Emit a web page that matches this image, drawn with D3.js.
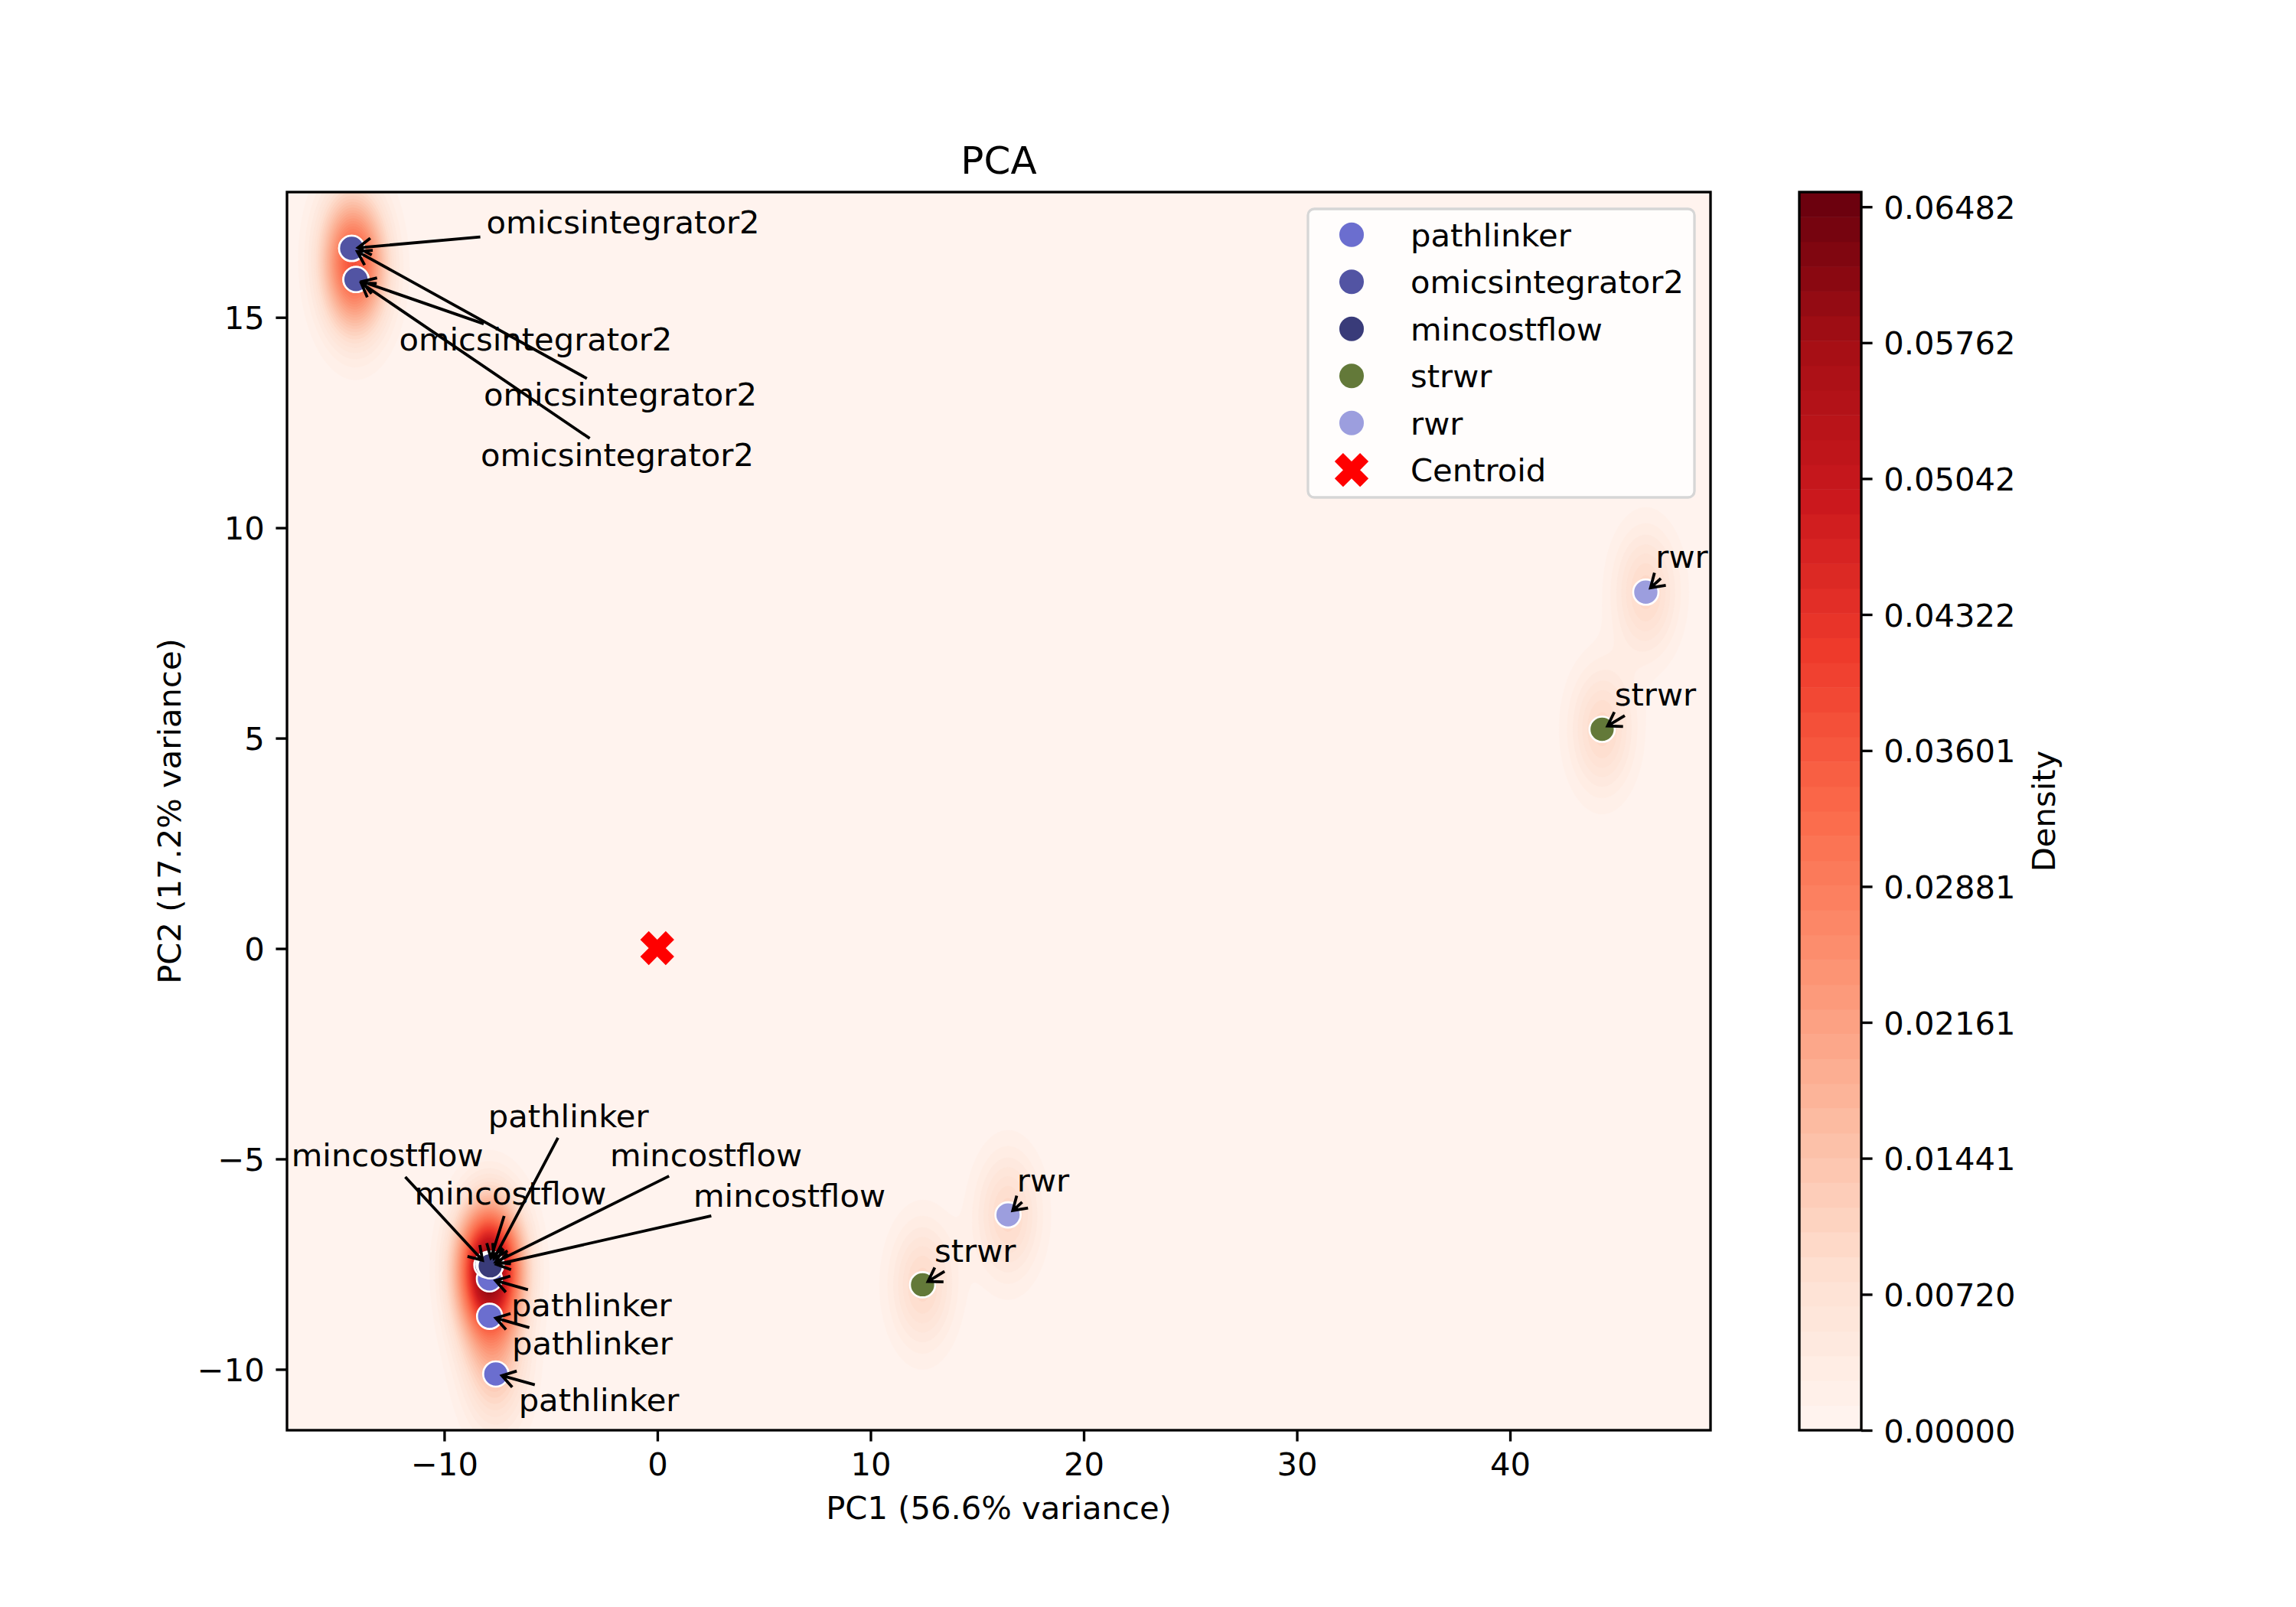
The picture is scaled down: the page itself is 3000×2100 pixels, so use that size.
<!DOCTYPE html>
<html>
<head>
<meta charset="utf-8">
<script src="https://cdn.jsdelivr.net/npm/d3@7"></script>
<style>
  body { margin: 0; background: #fff; }
  text { font-family: "DejaVu Sans", sans-serif; }
</style>
</head>
<body>
<div id="chart"></div>
<script>
// method order as it appears in the legend
const methods = ["pathlinker", "omicsintegrator2", "mincostflow", "strwr", "rwr"];
const methodColors = ["#6b6ecf", "#5254a3", "#393b79", "#637939", "#9c9ede"];

// one entry per run
const pointMethod = [
  "pathlinker", "pathlinker", "pathlinker", "pathlinker",
  "omicsintegrator2", "omicsintegrator2", "omicsintegrator2", "omicsintegrator2",
  "mincostflow", "mincostflow", "mincostflow", "mincostflow",
  "strwr", "strwr",
  "rwr", "rwr"
];
const pointPC1 = [-7.80, -7.88, -7.87, -7.58, -14.34, -14.14, -14.34, -14.14, -8.00, -7.90, -7.86, -7.84, 12.44, 44.32, 16.45, 46.37];
const pointPC2 = [-7.50, -7.85, -8.74, -10.11, 16.64, 15.90, 16.64, 15.90, -7.52, -7.50, -7.52, -7.54, -7.99, 5.21, -6.33, 8.47];

// where each annotation text sits (left / baseline, data units)
const labelPC1 = [-7.94, -6.86, -6.82, -6.51, -8.02, -12.12, -8.15, -8.29, -17.17, -11.40, -2.22, 1.69, 13.00, 44.91, 16.87, 46.83];
const labelPC2 = [-4.24, -8.74, -9.64, -11.00, 17.00, 14.21, 12.90, 11.47, -5.18, -6.09, -5.18, -6.14, -7.44, 5.77, -5.78, 9.04];

const xTicks = [-10, 0, 10, 20, 30, 40];
const yTicks = [-10, -5, 0, 5, 10, 15];
const cbarTicks = [0, 0.00720, 0.01441, 0.02161, 0.02881, 0.03601, 0.04322, 0.05042, 0.05762, 0.06482];
const cbarMax = 0.0656;
const nLevels = 50;
const bandwidth = 1.0;

const width = 3000, height = 2100;
const mL = 375, mR = 2235, mT = 251, mB = 1869;
const fs = 41.7;             // 10pt at 300 dpi
const pt = 300 / 72;

const svg = d3.select("#chart").append("svg")
    .attr("width", width)
    .attr("height", height)
    .attr("viewBox", `0 0 ${width} ${height}`);

// matplotlib-style 5% margins
const xExt = d3.extent(pointPC1), yExt = d3.extent(pointPC2);
const xPad = (xExt[1] - xExt[0]) * 0.05, yPad = (yExt[1] - yExt[0]) * 0.05;
const x = d3.scaleLinear().domain([xExt[0] - xPad, xExt[1] + xPad]).range([mL, mR]);
const y = d3.scaleLinear().domain([yExt[0] - yPad, yExt[1] + yPad]).range([mB, mT]);

const reds = d3.piecewise(d3.interpolateRgb, d3.schemeReds[9]);
const color = d3.scaleSequential(reds).domain([0, cbarMax]);
const levels = d3.range(nLevels + 1).map(i => i * cbarMax / nLevels);
const bandColor = i => color((levels[i] + levels[Math.min(i + 1, nLevels)]) / 2);

// density from the points: gaussian kernel, sigma = bandwidth (data units)
const cell = 4;
const nx = Math.ceil((mR - mL) / cell), ny = Math.ceil((mB - mT) / cell);
const grid = new Float64Array(nx * ny);
const norm = 1 / (pointPC1.length * 2 * Math.PI * bandwidth * bandwidth);
for (let j = 0; j < ny; j++) {
  const gy = y.invert(mT + (j + 0.5) * cell);
  for (let i = 0; i < nx; i++) {
    const gx = x.invert(mL + (i + 0.5) * cell);
    let s = 0;
    for (let k = 0; k < pointPC1.length; k++) {
      const dx = gx - pointPC1[k], dy = gy - pointPC2[k];
      s += Math.exp(-(dx * dx + dy * dy) / (2 * bandwidth * bandwidth));
    }
    grid[j * nx + i] = s * norm;
  }
}

svg.append("clipPath").attr("id", "plotclip")
  .append("rect").attr("x", mL).attr("y", mT).attr("width", mR - mL).attr("height", mB - mT);

const plot = svg.append("g").attr("clip-path", "url(#plotclip)");

plot.append("rect")
    .attr("x", mL).attr("y", mT)
    .attr("width", mR - mL).attr("height", mB - mT)
    .attr("fill", bandColor(0));

const gridPath = d3.geoPath(d3.geoTransform({
  point(px, py) { this.stream.point(mL + px * cell, mT + py * cell); }
}));

const contours = d3.contours().size([nx, ny]).thresholds(levels.slice(1, nLevels))(grid);
plot.selectAll("path.band")
  .data(contours)
  .enter().append("path")
    .attr("class", "band")
    .attr("d", gridPath)
    .attr("fill", (d, i) => bandColor(i + 1))
    .attr("stroke", (d, i) => bandColor(i + 1))
    .attr("stroke-width", 0.6);

// scatter
const methodColor = d3.scaleOrdinal(methods, methodColors);
const idx = d3.range(pointPC1.length);
const order = d3.sort(idx, i => methods.indexOf(pointMethod[i]));
svg.selectAll("circle.pt")
  .data(order)
  .enter().append("circle")
    .attr("class", "pt")
    .attr("cx", i => x(pointPC1[i]))
    .attr("cy", i => y(pointPC2[i]))
    .attr("r", 16.5)
    .attr("fill", i => methodColor(pointMethod[i]))
    .attr("stroke", "#fff")
    .attr("stroke-width", 2.6);

// centroid, filled X marker
const xMarker = (s) => {
  const a = 1 / 6, b = 0.5;
  const pts = [[a, b], [a, a], [b, a], [b, -a], [a, -a], [a, -b], [-a, -b], [-a, -a], [-b, -a], [-b, a], [-a, a], [-a, b]];
  const c = Math.SQRT1_2;
  return "M" + pts.map(([u, v]) => [(u - v) * c * s, (u + v) * c * s].join(",")).join("L") + "Z";
};
const centroid = [d3.mean(pointPC1), d3.mean(pointPC2)];
svg.append("path")
    .attr("d", xMarker(47))
    .attr("transform", `translate(${x(centroid[0])},${y(centroid[1])})`)
    .attr("fill", "red");

// annotations with "->" arrows, starting at the edge of the text box
const annot = svg.append("g");
const padX = 4, padY = 2, shrink = 4, headL = 17, headW = 11;
idx.forEach(i => {
  const tx = x(labelPC1[i]), ty = y(labelPC2[i]);
  const t = annot.append("text")
      .attr("x", tx)
      .attr("y", ty)
      .attr("font-size", fs)
      .attr("fill", "#000")
      .text(pointMethod[i]);
  const w = t.node().getComputedTextLength();
  const x0 = tx - padX, x1 = tx + w + padX;
  const y0 = ty - 0.76 * fs - padY, y1 = ty + 0.21 * fs + padY;
  const tcx = (x0 + x1) / 2, tcy = (y0 + y1) / 2;
  const px = x(pointPC1[i]), py = y(pointPC2[i]);
  const L = Math.hypot(px - tcx, py - tcy);
  const ux = (px - tcx) / L, uy = (py - tcy) / L;
  const hw = (x1 - x0) / 2, hh = (y1 - y0) / 2;
  const e = Math.min(ux !== 0 ? hw / Math.abs(ux) : Infinity, uy !== 0 ? hh / Math.abs(uy) : Infinity);
  const sx = tcx + ux * (e + shrink), sy = tcy + uy * (e + shrink);
  const ex = px - ux * 2 * pt, ey = py - uy * 2 * pt;
  const bx = ex - ux * headL, by = ey - uy * headL;
  annot.append("path")
      .attr("d", `M${sx},${sy}L${ex},${ey}M${bx - uy * headW},${by + ux * headW}L${ex},${ey}L${bx + uy * headW},${by - ux * headW}`)
      .attr("fill", "none")
      .attr("stroke", "#000")
      .attr("stroke-width", 3.8)
      .attr("stroke-linejoin", "miter");
});

// axes
const tickLen = 3.5 * pt, tickW = 0.8 * pt;
const xAxis = svg.append("g")
    .attr("transform", `translate(0,${mB})`)
    .call(d3.axisBottom(x).tickValues(xTicks).tickSize(tickLen).tickPadding(3.5 * pt).tickSizeOuter(0));
const yAxis = svg.append("g")
    .attr("transform", `translate(${mL},0)`)
    .call(d3.axisLeft(y).tickValues(yTicks).tickSize(tickLen).tickPadding(3.5 * pt).tickSizeOuter(0));
[xAxis, yAxis].forEach(g => {
  g.select(".domain").remove();
  g.selectAll(".tick line").attr("stroke", "#000").attr("stroke-width", tickW);
  g.selectAll(".tick text").attr("font-size", fs).attr("fill", "#000").attr("font-family", "DejaVu Sans");
});
xAxis.selectAll(".tick text").attr("dy", null).attr("y", 1928 - mB);
yAxis.selectAll(".tick text").attr("dy", "0.36em");

svg.append("rect")
    .attr("x", mL).attr("y", mT)
    .attr("width", mR - mL).attr("height", mB - mT)
    .attr("fill", "none").attr("stroke", "#000").attr("stroke-width", tickW);

// legend
const lg = svg.append("g");
lg.append("rect")
    .attr("x", 1709).attr("y", 273)
    .attr("width", 505).attr("height", 377)
    .attr("rx", 8.3)
    .attr("fill", "#fff").attr("fill-opacity", 0.8)
    .attr("stroke", "#d6d6d6").attr("stroke-width", 3.3);
const legendItems = methods.concat(["Centroid"]);
const rowY = i => 306.7 + i * 61.5;
lg.selectAll("g.item")
  .data(legendItems)
  .enter().append("g")
    .attr("class", "item")
    .attr("transform", (d, i) => `translate(0,${rowY(i)})`)
    .each(function(d) {
      const g = d3.select(this);
      if (d === "Centroid") {
        g.append("path").attr("d", xMarker(47)).attr("transform", "translate(1766,0)").attr("fill", "red");
      } else {
        g.append("circle").attr("cx", 1766).attr("cy", 0).attr("r", 16).attr("fill", methodColor(d));
      }
      g.append("text")
          .attr("x", 1843).attr("y", 0).attr("dy", "0.36em")
          .attr("font-size", fs).attr("fill", "#000")
          .text(d);
    });

// colorbar
const cbL = 2351, cbR = 2432;
const cbY = d3.scaleLinear().domain([0, cbarMax]).range([mB, mT]);
svg.selectAll("rect.cb")
  .data(d3.range(nLevels))
  .enter().append("rect")
    .attr("class", "cb")
    .attr("x", cbL)
    .attr("width", cbR - cbL)
    .attr("y", i => cbY(levels[i + 1]))
    .attr("height", i => cbY(levels[i]) - cbY(levels[i + 1]) + 0.5)
    .attr("fill", bandColor);
svg.append("rect")
    .attr("x", cbL).attr("y", mT)
    .attr("width", cbR - cbL).attr("height", mB - mT)
    .attr("fill", "none").attr("stroke", "#000").attr("stroke-width", tickW);
const cbAxis = svg.append("g")
    .attr("transform", `translate(${cbR},0)`)
    .call(d3.axisRight(cbY).tickValues(cbarTicks).tickFormat(d3.format(".5f"))
      .tickSize(tickLen).tickPadding(3.5 * pt).tickSizeOuter(0));
cbAxis.select(".domain").remove();
cbAxis.selectAll(".tick line").attr("stroke", "#000").attr("stroke-width", tickW);
cbAxis.selectAll(".tick text").attr("font-size", fs).attr("fill", "#000").attr("dy", "0.36em").attr("font-family", "DejaVu Sans");

// titles and axis labels
svg.append("text")
    .attr("x", (mL + mR) / 2).attr("y", 227)
    .attr("text-anchor", "middle").attr("font-size", 50)
    .text("PCA");
svg.append("text")
    .attr("x", (mL + mR) / 2).attr("y", 1985)
    .attr("text-anchor", "middle").attr("font-size", fs)
    .text("PC1 (56.6% variance)");
svg.append("text")
    .attr("transform", `translate(236,${(mT + mB) / 2}) rotate(-90)`)
    .attr("text-anchor", "middle").attr("font-size", fs)
    .text("PC2 (17.2% variance)");
svg.append("text")
    .attr("transform", `translate(2685,${(mT + mB) / 2}) rotate(-90)`)
    .attr("text-anchor", "middle").attr("font-size", fs)
    .text("Density");
</script>
</body>
</html>
